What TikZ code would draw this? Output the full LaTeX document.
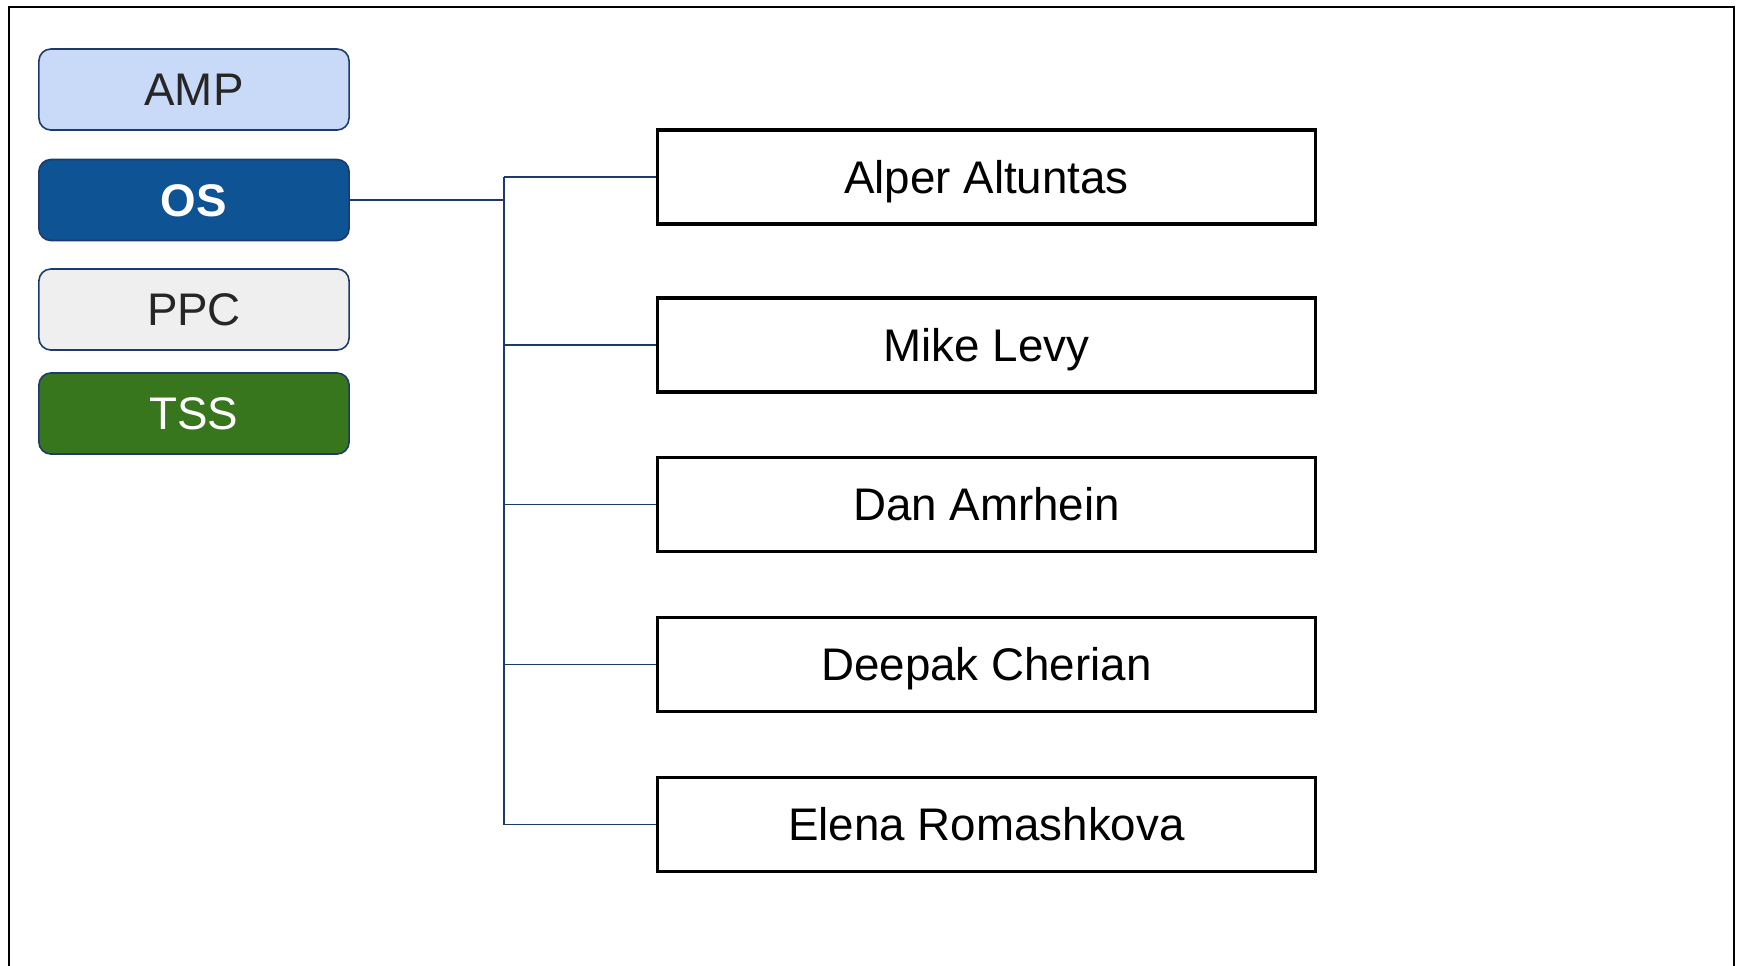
\documentclass[tikz,border=0pt]{standalone}
\usepackage{fontspec}
\setmainfont{Liberation Sans}
\definecolor{ampblue}{HTML}{C9DAF8}
\definecolor{osblue}{HTML}{0E5394}
\definecolor{ppcgray}{HTML}{EFEFEF}
\definecolor{tssgreen}{HTML}{38761D}
\definecolor{navy}{HTML}{1C3A6E}
\begin{document}
\begin{tikzpicture}[x=0.01cm,y=-0.01cm,
	team/.style={draw=navy,line width=0.45pt,rounded corners=3.4pt,minimum width=3.1cm,minimum height=0.81cm,inner sep=0pt,text height=9.3pt,text depth=0pt,text=black!85,font=\fontsize{13}{15}\selectfont},
	person/.style={draw=black,line width=0.9pt,minimum width=6.57cm,minimum height=0.94cm,inner sep=0pt,text height=9.3pt,text depth=0pt,font=\fontsize{13}{15}\selectfont},
	branch/.style={draw=navy,line width=0.45pt}]
		\useasboundingbox (0,0) rectangle (1741,966);
		% frame, open at the bottom
		\draw[line width=0.7pt] (9,966) -- (9,7) -- (1734,7) -- (1734,966);
		% teams
		\node[team,fill=ampblue] (amp) at (194,89.5) {AMP};
		\node[team,fill=osblue,text=white,font=\fontsize{13}{15}\selectfont\bfseries] (os) at (194,200) {OS};
		\node[team,fill=ppcgray] (ppc) at (194,309.5) {PPC};
		\node[team,fill=tssgreen,text=white] (tss) at (194,413.5) {TSS};
		% people
		\node[person] (alper) at (986.5,177) {Alper Altuntas};
		\node[person] (mike) at (986.5,345) {Mike Levy};
		\node[person] (dan) at (986.5,504.5) {Dan Amrhein};
		\node[person] (deepak) at (986.5,664.5) {Deepak Cherian};
		\node[person] (elena) at (986.5,824.5) {Elena Romashkova};
		% tree
		\coordinate (trunk) at (504,200);
		\draw[navy,line width=0.7pt] (os.east) -- (trunk);
		\draw[branch,line width=0.55pt] (trunk |- alper.west) -- (trunk |- elena.west);
		\foreach \p in {alper,mike,dan,deepak,elena}
			\draw[branch] (trunk |- \p.west) -- (\p.west);
	\end{tikzpicture}
\end{document}
